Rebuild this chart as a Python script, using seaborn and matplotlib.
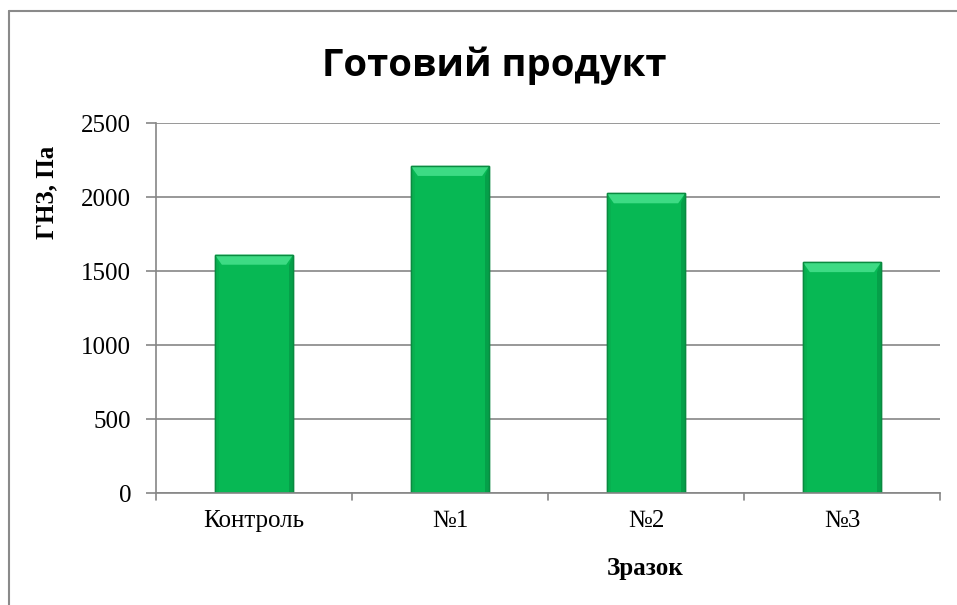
import matplotlib
matplotlib.use("Agg")
import matplotlib.pyplot as plt
import seaborn as sns
import pandas as pd
from matplotlib.lines import Line2D
from matplotlib.patches import Polygon

categories = ["Контроль", "№1", "№2", "№3"]
values = [1610, 2210, 2025, 1560]
y_ticks = [0, 500, 1000, 1500, 2000, 2500]

title = "Готовий продукт"
x_label = "Зразок"
y_label = "ГНЗ, Па"

sns.set_theme(style="white")
plt.rcParams['font.family'] = ['Liberation Serif', 'DejaVu Serif']
plt.rcParams['text.color'] = 'black'
plt.rcParams['axes.labelcolor'] = 'black'
plt.rcParams['xtick.color'] = 'black'
plt.rcParams['ytick.color'] = 'black'

df = pd.DataFrame({"cat": categories, "val": values})

fig = plt.figure(figsize=(9.57, 6.05), dpi=100)
W, H = 957, 605
L, R, T, B = 156, 940, 123, 493
ax = fig.add_axes([L / W, 1 - B / H, (R - L) / W, (B - T) / H])

sns.barplot(data=df, x="cat", y="val", ax=ax, color="#07B854", width=0.4,
            edgecolor="#0A8A40", linewidth=1.0, saturation=1)

ax.set_ylim(0, 2500)
ax.set_xlim(-0.5, len(categories) - 0.5)

# bevel effect derived from each bar patch
px = 2500 / float(B - T)  # data units per pixel (vertical)
for p in list(ax.patches):
    x0, w, h = p.get_x(), p.get_width(), p.get_height()
    bev_y = 10 * px
    bev_x = w * 0.09
    z = p.get_zorder()
    ax.add_patch(Polygon([[x0, h], [x0 + w, h], [x0 + w - bev_x, h - bev_y], [x0 + bev_x, h - bev_y]],
                         closed=True, facecolor="#3DDB84", edgecolor="none", zorder=z + 0.1))
    ax.add_patch(Polygon([[x0 + w, h], [x0 + w, 0], [x0 + w - bev_x * 0.6, 0], [x0 + w - bev_x * 0.6, h - bev_y]],
                         closed=True, facecolor="#05A049", edgecolor="none", zorder=z + 0.1))
    ax.add_patch(Polygon([[x0, h], [x0, 0], [x0 + bev_x * 0.6, 0], [x0 + bev_x * 0.6, h - bev_y]],
                         closed=True, facecolor="#08B050", edgecolor="none", zorder=z + 0.1))
    ax.add_patch(plt.Rectangle((x0, 0), w, h, facecolor="none", edgecolor="#0A8A40",
                               lw=1.0, zorder=z + 0.2))

ax.set_yticks(y_ticks)
ax.set_yticklabels([str(t) for t in y_ticks], fontsize=18)
ax.tick_params(axis='x', labelsize=18, length=0, pad=12)
ax.tick_params(axis='y', left=True, length=7, width=1.2, color="#868686", pad=11)
for t in range(len(categories) + 1):
    ax.plot([t - 0.5, t - 0.5], [0, -0.02], transform=ax.get_xaxis_transform(),
            color="#868686", lw=1.2, clip_on=False)

ax.yaxis.grid(True, color="#868686", lw=1.2)
ax.set_axisbelow(True)
for s in ["top", "right"]:
    ax.spines[s].set_visible(False)
for s in ["left", "bottom"]:
    ax.spines[s].set_color("#868686")
    ax.spines[s].set_linewidth(1.2)

ax.set_xlabel(x_label, fontsize=18, fontweight="bold")
ax.set_ylabel(y_label, fontsize=18, fontweight="bold")
ax.xaxis.set_label_coords((645 - L) / (R - L), (B - 568) / (B - T))
ax.yaxis.set_label_coords((47 - L) / (R - L), (B - 192) / (B - T))
ax.xaxis.label.set_va("center")
ax.yaxis.label.set_va("center")

fig.text(494 / W, 1 - 66 / H, title, ha="center", va="center", fontsize=27.5,
         fontweight="bold", color="black", family=["Open Sans", "DejaVu Sans"])

# outer chart border (left and top)
fig.add_artist(Line2D([9 / W, 9 / W], [0, 1 - 11 / H], transform=fig.transFigure,
                      color="#8a8a8a", lw=1.5))
fig.add_artist(Line2D([9 / W, 1], [1 - 11 / H, 1 - 11 / H], transform=fig.transFigure,
                      color="#8a8a8a", lw=1.5))

fig.savefig("out.png", dpi=100)
